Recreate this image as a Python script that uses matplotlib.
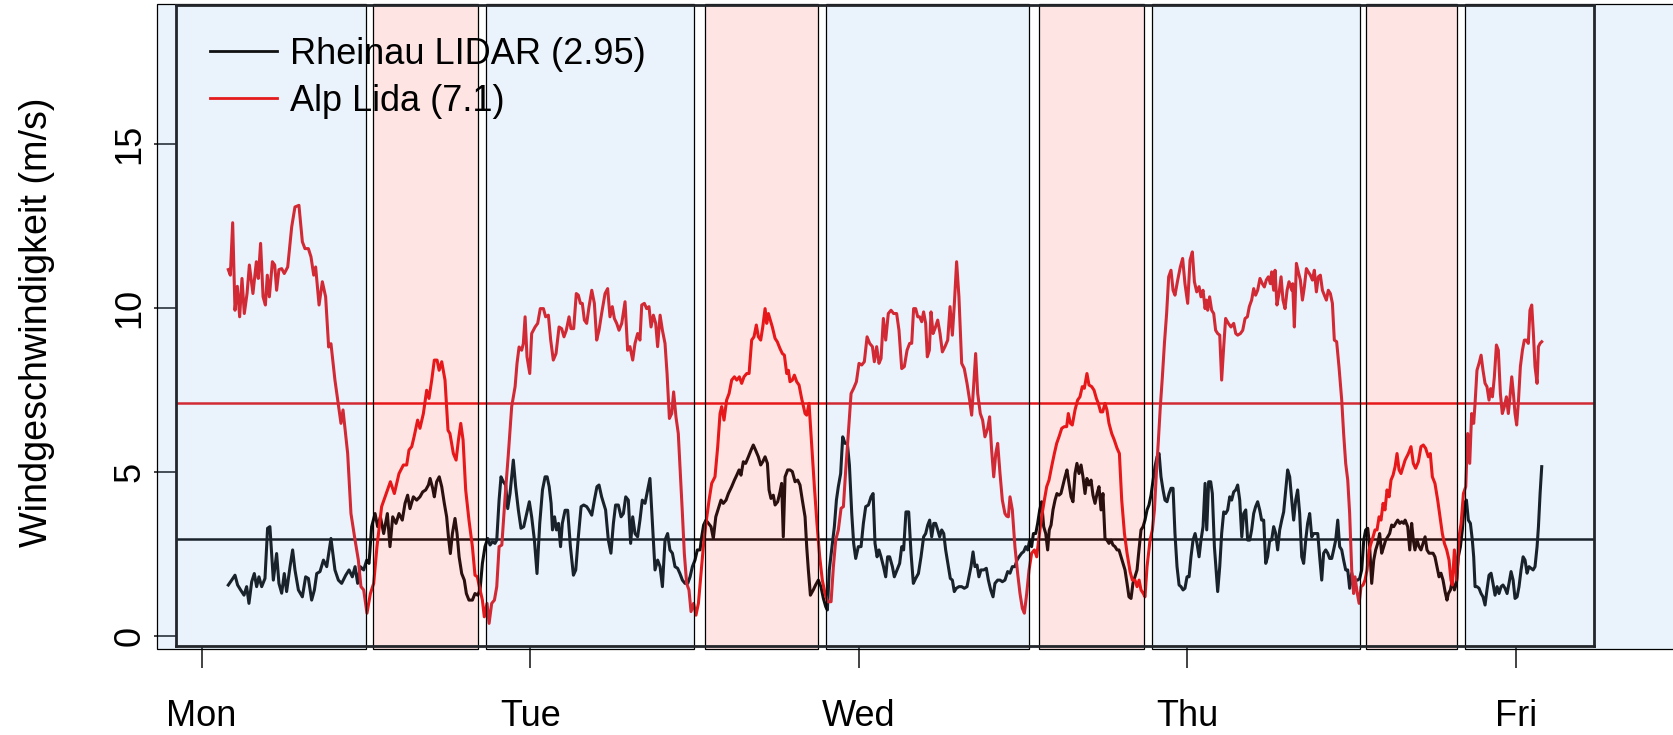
import numpy as np
import matplotlib
matplotlib.use("Agg")
import matplotlib.pyplot as plt
from matplotlib.patches import Rectangle

# ---------------- data (time in hours after Monday 00:00) ----------------
day_labels = ["Mon", "Tue", "Wed", "Thu", "Fri"]
day_ticks = [0, 24, 48, 72, 96]

rheinau_mean = 2.95
alp_mean = 7.1

# night (blue) and day (pink) periods, hours
night_start = [-3.26, 20.80, 45.59, 69.45, 92.31]
night_end = [11.99, 35.99, 60.42, 84.59, 115.0]
day_start = [12.54, 36.77, 61.19, 85.03]
day_end = [20.21, 45.00, 68.84, 91.73]

alp_t = [1.95, 2.10, 2.27, 2.44, 2.61, 2.78, 2.95, 3.12, 3.32, 3.49, 3.75, 4.00, 4.14, 4.31, 4.49, 4.66, 4.80, 4.95,
         5.17, 5.34, 5.48, 5.65, 5.85, 6.04, 6.29, 6.58, 6.82, 7.11, 7.36, 7.55, 7.80, 7.99, 8.19, 8.33, 8.58, 8.82,
         9.06, 9.28, 9.45, 9.74, 10.04, 10.18, 10.33, 10.67, 10.91, 11.21, 11.45, 11.64, 11.84, 12.08, 12.33, 12.57,
         12.81, 13.15, 13.49, 13.79, 14.08, 14.42, 14.74,
         14.98, 15.15, 15.35, 15.52, 15.78, 15.95, 16.20, 16.44, 16.61, 16.81, 17.00, 17.20, 17.35, 17.54, 17.78,
         18.00, 18.14, 18.39, 18.59, 18.76, 18.93, 19.10, 19.29, 19.53, 19.78, 19.97, 20.14, 20.29, 20.51, 20.65,
         20.85, 21.00, 21.19, 21.39, 21.56, 21.73, 21.93, 22.17, 22.41, 22.65, 22.90, 23.04, 23.19, 23.38, 23.50,
         23.63, 23.77, 23.97, 24.11, 24.36, 24.55, 24.74, 24.97, 25.13, 25.33, 25.50, 25.69, 25.89, 26.11, 26.30,
         26.47, 26.64, 26.84, 26.98, 27.18, 27.37, 27.52, 27.67, 27.81, 27.96, 28.13, 28.30, 28.50, 28.69, 28.86,
         29.03, 29.22,
         29.47, 29.66, 29.83, 30.00, 30.15, 30.32, 30.49, 30.69, 30.93, 31.12, 31.29, 31.49, 31.66, 31.85, 32.02,
         32.15, 32.34, 32.51, 32.68, 32.83, 33.00, 33.17, 33.31, 33.49, 33.66, 33.85, 34.00, 34.17, 34.34, 34.48,
         34.65, 34.82, 34.97, 35.12, 35.26, 35.43, 35.60, 35.75, 35.94, 36.11, 36.29, 36.48, 36.65, 36.84, 37.07,
         37.26, 37.50, 37.70, 37.87, 37.99, 38.16, 38.35, 38.53, 38.72, 38.92, 39.09, 39.28, 39.45, 39.62, 39.82,
         39.99, 40.18, 40.35, 40.52, 40.67, 40.84, 40.99, 41.16, 41.28, 41.40, 41.54, 41.69, 41.89, 42.05, 42.25,
         42.42, 42.57, 42.74, 42.86, 42.98, 43.15, 43.30, 43.47, 43.64, 43.83, 44.08,
         44.20, 44.37, 44.56, 44.76, 44.95, 45.15, 45.34, 45.54, 45.73, 45.98, 46.15, 46.32, 46.51, 46.71, 46.88,
         47.05, 47.24, 47.44, 47.63, 47.83, 48.02, 48.22, 48.41, 48.61, 48.80, 49.00, 49.14, 49.31, 49.48, 49.63,
         49.80, 49.97, 50.16, 50.36, 50.55, 50.77, 50.94, 51.14, 51.33, 51.53, 51.72, 51.87, 52.01, 52.16, 52.31,
         52.45, 52.60, 52.74, 52.89, 53.01, 53.16, 53.28, 53.43, 53.57, 53.77, 53.94, 54.11, 54.30, 54.50, 54.67,
         54.84, 54.98, 55.15, 55.32, 55.52, 55.71, 55.91, 56.10, 56.25, 56.39, 56.54, 56.69, 56.88, 57.05, 57.22,
         57.42, 57.56, 57.71, 57.86, 58.01, 58.15, 58.32, 58.49, 58.68,
         58.81, 58.93, 59.05, 59.22, 59.41, 59.61, 59.78, 59.95, 60.10, 60.27, 60.44, 60.63, 60.83, 61.00, 61.17,
         61.36, 61.56, 61.73, 61.90, 62.09, 62.29, 62.46, 62.63, 62.83, 63.02, 63.19, 63.31, 63.46, 63.60, 63.80,
         63.99, 64.16, 64.33, 64.48, 64.67, 64.82, 65.02, 65.19, 65.36, 65.50, 65.67, 65.82, 65.99, 66.13, 66.28,
         66.48, 66.67, 66.87, 67.04, 67.21, 67.41, 67.60, 67.82, 67.99, 68.18, 68.33, 68.48, 68.62, 68.79, 68.91,
         69.06, 69.28, 69.45, 69.60, 69.74, 69.89, 70.03, 70.18, 70.33, 70.49, 70.64, 70.81, 70.96, 71.10, 71.30,
         71.49, 71.66, 71.83, 72.03, 72.20, 72.37, 72.52, 72.69, 72.86, 73.00, 73.15, 73.30,
         73.39, 73.49, 73.63, 73.78, 73.93, 74.07, 74.22, 74.37, 74.51, 74.66, 74.80, 75.00, 75.19, 75.39, 75.54,
         75.68, 75.88, 76.05, 76.22, 76.39, 76.53, 76.70, 76.85, 76.99, 77.14, 77.31, 77.48, 77.63, 77.77, 77.92,
         78.07, 78.16, 78.31, 78.41, 78.55, 78.70, 78.85, 78.99, 79.14, 79.29, 79.43, 79.63, 79.70, 79.82, 79.97,
         80.11, 80.26, 80.41, 80.55, 80.70, 80.84, 80.99, 81.14, 81.28, 81.43, 81.57, 81.72, 81.87, 82.01, 82.16,
         82.30, 82.45, 82.60, 82.74, 82.91, 83.08, 83.28, 83.42, 83.57, 83.72, 83.86, 84.01, 84.15, 84.25, 84.40,
         84.55, 84.69, 84.84, 84.98, 85.13, 85.28, 85.42, 85.57, 85.71, 85.86, 86.01, 86.15, 86.30, 86.44, 86.59,
         86.74, 86.88, 87.03, 87.18, 87.32, 87.47, 87.61, 87.76, 87.91,
         88.03, 88.15, 88.34, 88.51, 88.68, 88.88, 89.07, 89.24, 89.41, 89.61, 89.75, 89.90, 90.09, 90.29, 90.46,
         90.63, 90.78, 90.95, 91.12, 91.26, 91.36, 91.51, 91.68, 91.85, 92.00, 92.17, 92.34, 92.48, 92.63, 92.77,
         92.92, 93.02, 93.16, 93.31, 93.46, 93.60, 93.75, 93.89, 94.04, 94.16, 94.29, 94.43, 94.58, 94.72, 94.87,
         95.01, 95.16, 95.31, 95.45, 95.57, 95.70, 95.82, 95.94, 96.06, 96.18, 96.33, 96.48, 96.62, 96.77, 96.91,
         97.03, 97.16, 97.28, 97.40, 97.55, 97.65, 97.77, 97.89]

alp_v = [11.17, 11.00, 12.60, 9.93, 10.66, 9.73, 10.90, 9.83, 10.44, 11.31, 10.44, 11.41, 10.90, 11.97, 10.34, 10.09,
         11.00, 10.34, 11.41, 11.31, 10.54, 11.17, 11.20, 11.05, 11.25, 12.47, 13.08, 13.13, 12.02, 11.81, 11.81,
         11.56, 11.00, 11.25, 10.09, 10.80, 10.34, 8.81, 8.91, 7.80, 6.89, 6.48, 6.89, 5.56, 3.73, 2.92, 2.31, 1.50,
         1.40, 0.69, 1.29, 1.60, 2.72, 3.94, 4.34, 4.70, 4.34, 4.95, 5.21,
         5.21, 5.67, 5.77, 6.07, 6.58, 6.33, 6.78, 7.49, 7.24, 7.80, 8.41, 8.41, 8.10, 8.36, 7.80, 6.27, 6.17, 5.56,
         5.36, 5.97, 6.48, 5.97, 4.45, 3.53, 2.72, 1.85, 1.80, 1.50, 1.09, 0.58, 0.99, 0.38, 0.99, 1.09, 1.50, 2.72,
         2.77, 4.24, 5.56, 6.99, 7.60, 8.31, 8.81, 8.71, 8.91, 9.73, 8.51, 8.00, 9.22, 9.42, 9.53, 9.98, 9.98, 9.73,
         9.78, 9.02, 8.41, 8.61, 9.42, 9.37, 9.12, 9.32, 9.73, 9.37, 9.37, 10.44, 10.39, 10.14, 10.14, 9.63, 9.53,
         10.04, 10.54, 10.14, 9.02, 9.32, 9.83,
         10.44, 10.59, 9.73, 10.04, 9.68, 9.53, 9.32, 9.53, 10.19, 8.71, 8.82, 8.41, 8.92, 9.22, 9.02, 10.09, 10.14,
         9.98, 10.04, 9.42, 9.78, 9.53, 8.82, 9.78, 9.32, 8.92, 8.00, 6.63, 6.78, 7.44, 6.68, 6.17, 4.95, 3.73, 2.52,
         1.60, 1.40, 0.74, 0.99, 0.63, 0.99, 1.90, 2.72, 3.43, 4.14, 4.65, 4.85, 5.77, 6.78, 6.99, 6.58, 7.19, 7.39,
         7.80, 7.90, 7.80, 7.90, 7.70, 7.90, 8.00, 8.00, 9.02, 9.12, 9.48, 9.12, 9.02, 9.42, 9.98, 9.53, 9.83, 9.63,
         9.42, 9.07, 8.97, 8.76, 8.61, 8.56, 8.00, 8.10, 7.75, 7.80, 7.95, 7.75, 7.65, 7.24, 6.78,
         6.73, 7.09, 5.87, 4.55, 3.43, 2.41, 1.70, 1.29, 1.04, 1.04, 2.11, 2.92, 3.23, 3.89, 3.94, 5.06, 6.17, 7.39,
         7.55, 7.75, 8.31, 8.26, 8.36, 9.12, 8.92, 8.82, 8.36, 8.82, 8.31, 8.46, 9.68, 9.02, 9.83, 9.93, 9.83, 9.83,
         9.32, 8.15, 8.21, 8.71, 8.92, 8.92, 9.98, 9.98, 9.73, 9.73, 9.58, 9.88, 9.53, 8.51, 8.71, 9.88, 9.22, 9.37,
         9.63, 9.22, 8.66, 8.82, 9.02, 10.04, 9.17, 10.09, 11.41, 10.34, 8.31, 8.15, 7.70, 7.19, 6.73, 7.60, 8.61,
         7.39, 6.78, 6.58, 6.07, 6.33, 6.68, 5.66, 4.85, 5.56, 5.87, 4.95, 4.14, 3.73,
         3.65, 3.63, 4.24, 3.84, 2.72, 1.90, 1.29, 0.84, 0.69, 1.29, 2.01, 2.52, 2.62, 2.41, 3.02, 3.63, 4.14, 4.55,
         4.75, 5.16, 5.56, 5.87, 6.07, 6.33, 6.38, 6.38, 6.78, 6.48, 6.43, 6.89, 7.19, 7.29, 7.60, 7.55, 8.00, 7.65,
         7.60, 7.49, 7.24, 7.09, 6.83, 6.83, 7.09, 6.89, 6.48, 6.17, 5.97, 5.72, 5.56, 4.14, 3.12, 2.52, 1.96, 1.70,
         1.70, 1.50, 1.70, 1.40, 1.29, 1.19, 2.11, 2.92, 3.23, 3.84, 4.95, 5.97, 6.99, 7.90, 8.92, 9.83, 10.95,
         11.15, 10.54, 10.39, 10.85, 11.25, 11.51, 10.74, 10.14, 11.46, 11.71, 10.80, 10.49, 10.65, 10.34, 10.54,
         9.98,
         10.24, 9.93, 10.34, 9.93, 9.83, 9.32, 9.22, 9.17, 7.80, 8.82, 9.68, 9.53, 9.42, 9.53, 9.22, 9.17, 9.22,
         9.32, 9.68, 9.73, 10.04, 10.24, 10.59, 10.39, 10.54, 10.90, 10.74, 10.64, 10.85, 10.95, 10.74, 11.10,
         10.54, 11.15, 10.09, 10.44, 10.95, 10.24, 9.98, 10.54, 10.80, 10.54, 10.74, 9.42, 11.36, 11.10, 10.85,
         10.24, 10.64, 11.20, 11.10, 11.00, 10.85, 11.15, 10.49, 10.95, 11.00, 10.54, 10.39, 10.24, 10.54, 10.44,
         10.14, 9.02, 8.97, 8.21, 7.19, 6.17, 5.26, 4.75, 3.73, 2.01, 1.29, 1.80, 1.34, 0.99, 1.50, 1.55, 1.70,
         2.01, 2.62, 2.82, 3.02, 3.23, 3.23, 3.63, 3.53, 4.04, 3.84, 4.45, 4.24, 4.75, 4.90, 5.16, 5.56, 5.06, 4.95,
         5.16, 5.36,
         5.46, 5.56, 5.77, 5.26, 5.11, 5.31, 5.77, 5.82, 5.72, 5.46, 5.56, 4.85, 4.65, 4.14, 3.63, 3.12, 2.82, 2.62,
         2.31, 1.70, 1.55, 2.62, 1.70, 3.02, 3.43, 4.34, 4.55, 6.17, 5.26, 6.78, 6.48, 7.09, 8.10, 8.31, 8.56, 8.10,
         7.70, 7.60, 7.19, 7.54, 7.29, 7.90, 8.87, 8.71, 7.39, 6.78, 6.99, 7.29, 6.78, 7.29, 7.90, 7.39, 6.78, 6.43,
         7.09, 8.21, 8.71, 9.02, 9.02, 8.92, 9.93, 10.09, 9.22, 8.21, 7.70, 8.82, 8.92, 8.97]

rheinau_t = [1.95, 2.20, 2.44, 2.63, 2.85, 3.10, 3.29, 3.46, 3.66, 3.85, 4.02, 4.19, 4.39, 4.63, 4.82, 4.99, 5.24,
             5.48, 5.65, 5.85, 6.04, 6.21, 6.46, 6.65, 6.82, 7.07, 7.36, 7.60, 7.80, 8.04, 8.24, 8.41, 8.65, 8.90,
             9.14, 9.45, 9.74, 9.99, 10.23, 10.53, 10.77, 11.01, 11.21, 11.40, 11.59, 11.84, 12.06, 12.23, 12.42,
             12.67, 12.86, 13.06, 13.30, 13.57, 13.76, 13.96, 14.20, 14.42, 14.66, 14.86,
             15.05, 15.22, 15.47, 15.71, 15.95, 16.15, 16.37, 16.57, 16.69, 16.88, 17.00, 17.17, 17.36, 17.54, 17.73,
             17.90, 18.03, 18.17, 18.32, 18.51, 18.66, 18.81, 19.00, 19.19, 19.34, 19.53, 19.78, 19.97, 20.17, 20.34,
             20.51, 20.70, 20.90, 21.07, 21.24, 21.43, 21.56, 21.73, 21.87, 22.04, 22.21, 22.36, 22.53, 22.77, 22.94,
             23.14, 23.33, 23.53, 23.75, 23.94, 24.11, 24.31, 24.50, 24.70, 24.90, 25.09, 25.24, 25.39, 25.53, 25.63,
             25.78, 25.92, 26.07, 26.22, 26.35, 26.55, 26.74, 26.94, 27.16, 27.33, 27.52, 27.72, 27.91, 28.13, 28.30,
             28.50, 28.69, 28.88, 29.03, 29.22,
             29.51, 29.71, 29.90, 30.08, 30.24, 30.44, 30.64, 30.81, 30.98, 31.17, 31.34, 31.49, 31.66, 31.85, 32.02,
             32.19, 32.39, 32.58, 32.75, 32.93, 33.12, 33.31, 33.49, 33.66, 33.85, 34.04, 34.21, 34.39, 34.58, 34.77,
             34.94, 35.12, 35.31, 35.51, 35.68, 35.85, 36.04, 36.21, 36.41, 36.53, 36.67, 36.84, 37.02, 37.21, 37.38,
             37.56, 37.75, 37.94, 38.11, 38.31, 38.48, 38.72, 38.92, 39.09, 39.26, 39.40, 39.57, 39.74, 39.94, 40.13,
             40.30, 40.47, 40.67, 40.84, 40.99, 41.16, 41.33, 41.45, 41.59, 41.76, 41.89, 42.08, 42.25, 42.37, 42.49,
             42.62, 42.81, 42.98, 43.15, 43.35, 43.54, 43.71, 43.88, 44.08,
             44.20, 44.32, 44.47, 44.68, 44.85, 45.05, 45.24, 45.42, 45.59, 45.71, 45.85, 46.02, 46.22, 46.37, 46.51,
             46.68, 46.83, 47.00, 47.17, 47.32, 47.49, 47.63, 47.78, 47.97, 48.17, 48.34, 48.51, 48.71, 48.90, 49.05,
             49.19, 49.34, 49.48, 49.63, 49.81, 49.97, 50.11, 50.26, 50.46, 50.60, 50.80, 50.99, 51.14, 51.28, 51.45,
             51.65, 51.82, 51.99, 52.16, 52.36, 52.55, 52.74, 52.89, 53.04, 53.18, 53.33, 53.48, 53.62, 53.77, 53.91,
             54.06, 54.21, 54.35, 54.55, 54.69, 54.84, 54.98, 55.13, 55.32, 55.52, 55.71, 55.91, 56.05, 56.20, 56.35,
             56.49, 56.64, 56.78, 56.93, 57.13, 57.32, 57.47, 57.64, 57.81, 57.95, 58.15, 58.32, 58.49, 58.68,
             58.88, 59.05, 59.22, 59.41, 59.56, 59.71, 59.90, 60.05, 60.20, 60.34, 60.49, 60.63, 60.76, 60.93, 61.07,
             61.22, 61.36, 61.51, 61.66, 61.80, 61.92, 62.05, 62.19, 62.34, 62.48, 62.63, 62.77, 62.92, 63.07, 63.21,
             63.36, 63.51, 63.65, 63.80, 63.94, 64.09, 64.24, 64.38, 64.53, 64.67, 64.82, 64.97, 65.11, 65.26, 65.41,
             65.55, 65.70, 65.84, 65.99, 66.13, 66.28, 66.43, 66.57, 66.72, 66.87, 67.01, 67.16, 67.30, 67.45, 67.60,
             67.74, 67.89, 68.03, 68.18, 68.33, 68.47, 68.62, 68.77, 68.91, 69.06, 69.20, 69.35, 69.50, 69.64, 69.79,
             69.94, 70.08, 70.23, 70.37, 70.52, 70.67, 70.81, 70.96, 71.10, 71.25, 71.40, 71.54, 71.69, 71.83, 71.98,
             72.13, 72.27, 72.42, 72.57, 72.71, 72.86, 73.00, 73.15, 73.30,
             73.42, 73.56, 73.71, 73.83, 73.98, 74.12, 74.22, 74.37, 74.51, 74.66, 74.80, 74.95, 75.10, 75.24, 75.39,
             75.54, 75.68, 75.83, 75.98, 76.12, 76.27, 76.41, 76.56, 76.70, 76.85, 76.99, 77.14, 77.29, 77.43, 77.58,
             77.73, 77.87, 78.02, 78.16, 78.31, 78.46, 78.60, 78.75, 78.90, 79.04, 79.19, 79.33, 79.48, 79.63, 79.77,
             79.92, 80.06, 80.21, 80.36, 80.50, 80.65, 80.79, 80.94, 81.09, 81.23, 81.38, 81.53, 81.67, 81.82, 81.96,
             82.11, 82.26, 82.40, 82.55, 82.69, 82.84, 82.99, 83.13, 83.28, 83.42, 83.57, 83.72, 83.86, 84.01, 84.15,
             84.30, 84.45, 84.59, 84.74, 84.89, 85.03, 85.18, 85.32, 85.47, 85.62, 85.76, 85.91, 86.05, 86.20, 86.35,
             86.49, 86.64, 86.78, 86.93, 87.08, 87.22, 87.37, 87.52, 87.66, 87.81, 87.91,
             88.10, 88.25, 88.39, 88.51, 88.63, 88.78, 88.93, 89.07, 89.22, 89.37, 89.51, 89.66, 89.80, 89.95, 90.09,
             90.24, 90.39, 90.53, 90.68, 90.83, 90.97, 91.07, 91.22, 91.36, 91.51, 91.66, 91.80, 91.95, 92.09, 92.24,
             92.39, 92.53, 92.68, 92.82, 92.92, 93.02, 93.16, 93.31, 93.46, 93.60, 93.75, 93.89, 94.04, 94.19, 94.33,
             94.48, 94.63, 94.77, 94.92, 95.06, 95.21, 95.36, 95.50, 95.65, 95.80, 95.94, 96.09, 96.23, 96.38, 96.53,
             96.67, 96.82, 96.96, 97.11, 97.26, 97.40, 97.55, 97.65, 97.77, 97.89]

rheinau_v = [1.55, 1.70, 1.85, 1.55, 1.40, 1.24, 1.50, 0.99, 1.65, 1.90, 1.50, 1.80, 1.50, 1.75, 3.28, 3.33, 1.70,
             2.51, 1.60, 1.30, 1.90, 1.35, 2.11, 2.62, 2.01, 1.40, 1.19, 1.80, 1.75, 1.09, 1.40, 1.90, 1.96, 2.31,
             2.11, 2.97, 2.01, 1.70, 1.60, 1.85, 2.01, 1.80, 2.11, 1.60, 2.11, 2.01, 2.31, 2.21, 3.33, 3.73, 3.33,
             3.63, 3.12, 3.73, 2.72, 3.63, 3.43, 3.73, 3.53, 4.04,
             4.29, 3.88, 4.24, 4.14, 4.24, 4.39, 4.45, 4.60, 4.80, 4.50, 4.24, 4.70, 4.85, 4.55, 4.04, 3.63, 3.02,
             2.51, 3.12, 3.58, 3.12, 2.41, 1.90, 1.70, 1.29, 1.09, 1.09, 1.29, 1.24, 1.40, 2.21, 2.72, 2.97, 2.77,
             2.87, 2.82, 2.92, 4.14, 4.85, 4.70, 4.60, 3.88, 4.34, 5.36, 4.55, 3.83, 3.28, 3.33, 3.73, 4.09, 3.63,
             2.92, 1.90, 3.43, 4.45, 4.85, 4.85, 4.55, 4.04, 3.23, 3.63, 3.23, 3.43, 2.72, 3.43, 3.83, 3.83, 2.72,
             1.85, 2.01, 3.02, 3.94, 3.99, 3.94, 3.83, 3.68, 4.14, 4.55, 4.60, 4.24,
             3.84, 2.92, 2.52, 3.43, 3.99, 3.99, 3.63, 3.73, 4.24, 4.14, 2.82, 3.63, 3.12, 3.02, 3.53, 4.14, 4.04,
             4.45, 4.80, 3.43, 2.01, 2.31, 2.11, 1.50, 2.92, 3.12, 2.62, 2.52, 2.11, 2.06, 1.90, 1.70, 1.60, 1.60,
             1.80, 2.11, 2.31, 2.62, 2.62, 3.02, 3.38, 3.53, 3.43, 3.33, 2.97, 3.63, 3.89, 4.14, 4.04, 4.14, 4.34,
             4.55, 4.75, 4.90, 5.06, 4.90, 5.31, 5.26, 5.46, 5.66, 5.82, 5.66, 5.46, 5.21, 5.31, 5.46, 5.26, 4.45,
             4.19, 4.29, 3.99, 4.09, 4.39, 4.65, 3.02, 4.85, 5.06, 5.06, 5.01, 4.70, 4.75, 4.60, 4.14, 3.63,
             2.72, 2.01, 1.24, 1.40, 1.55, 1.70, 1.50, 1.14, 0.89, 0.79, 2.01, 2.62, 3.33, 4.14, 4.55, 4.95, 6.07,
             5.87, 5.87, 5.21, 3.73, 2.82, 2.36, 2.72, 2.72, 3.43, 3.94, 3.99, 4.24, 4.34, 2.82, 2.41, 2.62, 2.41,
             2.11, 1.80, 2.41, 2.41, 2.11, 1.80, 2.01, 2.21, 2.72, 2.62, 3.78, 3.78, 2.52, 1.60, 1.75, 1.90, 2.41,
             3.02, 3.12, 3.38, 3.53, 3.02, 3.43, 3.43, 3.23, 3.02, 3.23, 3.12, 2.62, 2.11, 1.75, 1.70, 1.35, 1.45,
             1.50, 1.50, 1.45, 1.50, 1.80, 2.11, 2.56, 2.11, 2.16, 1.80, 2.01, 2.01, 2.06, 1.70, 1.40, 1.19, 1.60,
             1.70, 1.70, 1.65, 1.70,
             1.96, 1.91, 2.11, 2.11, 2.31, 2.41, 2.52, 2.57, 2.72, 2.62, 2.92, 2.72, 3.12, 3.12, 3.43, 3.84, 4.09,
             3.33, 3.12, 2.62, 3.23, 3.38, 3.84, 4.14, 4.34, 4.29, 4.34, 4.60, 4.85, 5.06, 4.65, 4.24, 4.09, 4.95,
             5.26, 4.95, 5.21, 4.85, 4.34, 4.80, 4.60, 4.75, 4.29, 4.04, 4.34, 4.55, 3.84, 4.34, 2.97, 2.92, 2.82,
             2.92, 2.77, 2.72, 2.62, 2.62, 2.41, 2.21, 2.01, 1.60, 1.19, 1.14, 1.60, 1.80, 2.01, 2.62, 3.23, 3.33,
             3.53, 3.84, 3.99, 4.29, 4.75, 5.16, 5.46, 5.56, 4.85, 4.45, 4.14, 4.09, 4.34, 4.50, 4.50, 3.12, 2.11,
             1.55, 1.50, 1.40, 1.45, 1.80, 1.80, 2.41, 2.92, 3.12, 2.82, 2.41, 2.92, 3.33, 4.65,
             3.23, 4.70, 4.70, 4.34, 2.72, 1.90, 1.35, 2.11, 3.12, 3.78, 3.73, 3.84, 4.24, 4.14, 4.39, 4.45, 4.60,
             4.14, 3.02, 3.73, 3.84, 2.92, 2.92, 3.23, 3.73, 3.94, 4.09, 3.84, 3.53, 3.53, 2.21, 2.41, 2.92, 2.92,
             3.33, 3.12, 2.62, 3.23, 3.53, 3.78, 4.45, 5.06, 4.85, 4.14, 3.53, 4.14, 4.45, 3.73, 2.41, 2.21, 2.92,
             3.43, 3.73, 3.02, 3.12, 3.12, 3.12, 2.41, 1.70, 2.52, 2.62, 2.52, 2.36, 2.36, 2.62, 2.92, 3.53, 2.72,
             2.62, 2.31, 2.01, 2.01, 1.45, 1.91, 1.50, 1.70, 1.70, 1.75, 2.01, 2.92, 3.23, 3.28, 2.72, 1.60, 2.31,
             2.62, 2.82, 3.12, 2.52, 2.72, 2.92, 3.02, 3.12, 3.38, 3.33, 3.43, 3.53, 3.43, 3.48, 3.43, 3.53,
             3.33, 2.62, 3.43, 2.92, 2.62, 2.92, 2.72, 2.62, 2.82, 3.02, 2.62, 2.52, 2.52, 2.52, 2.41, 2.11, 1.80,
             1.91, 1.70, 1.35, 1.09, 1.29, 1.40, 1.70, 1.40, 1.60, 2.41, 2.72, 3.23, 4.04, 4.14, 3.53, 3.43, 2.92,
             2.41, 1.50, 1.50, 1.45, 1.29, 1.19, 0.94, 1.40, 1.85, 1.91, 1.60, 1.24, 1.50, 1.29, 1.50, 1.55, 1.45,
             1.29, 1.60, 1.96, 1.70, 1.14, 1.19, 1.50, 2.01, 2.41, 2.31, 1.91, 2.11, 2.06, 2.01, 2.11, 2.72, 3.33,
             4.34, 5.16]

# ---------------- styling ----------------
plt.rcParams['font.family'] = ['Liberation Sans', 'DejaVu Sans']
W, H = 1673, 735
fig = plt.figure(figsize=(W / 100, H / 100), dpi=100, facecolor='white')
ax_left, ax_right, ax_top, ax_bot = 175.5, 1594.3, 5.0, 646.0
ax = fig.add_axes([ax_left / W, 1 - ax_bot / H, (ax_right - ax_left) / W, (ax_bot - ax_top) / H])
ax.set_facecolor('white')

ax.set_xlim(-1.906, 101.73)
ax.set_ylim(-0.31, 19.24)

black_col = '#111111'
red_col = '#E41A1C'

l1, = ax.plot(rheinau_t, rheinau_v, color=black_col, lw=2.2, zorder=2,
              label='Rheinau LIDAR (%.2f)' % rheinau_mean)
l2, = ax.plot(alp_t, alp_v, color=red_col, lw=2.2, zorder=2,
              label='Alp Lida (%.1f)' % alp_mean)
ax.axhline(rheinau_mean, color=black_col, lw=1.8, zorder=1.9)
ax.axhline(alp_mean, color=red_col, lw=1.8, zorder=1.9)

blue_face = (88 / 255, 163 / 255, 238 / 255, 0.12)
pink_face = (1.0, 0.04, 0.04, 0.11)
ylo, yhi = -0.40, 19.27
for s, e in zip(night_start, night_end):
    ax.add_patch(Rectangle((s, ylo), e - s, yhi - ylo, facecolor=blue_face, edgecolor='black',
                           lw=0.9, zorder=3, clip_on=False))
for s, e in zip(day_start, day_end):
    ax.add_patch(Rectangle((s, ylo), e - s, yhi - ylo, facecolor=pink_face, edgecolor='black',
                           lw=0.9, zorder=3, clip_on=False))

for sp in ax.spines.values():
    sp.set_linewidth(2.0)
    sp.set_color('#23262a')
    sp.set_zorder(4)

ax.set_xticks(day_ticks)
ax.set_xticklabels(day_labels)
ax.set_yticks([0, 5, 10, 15])
ax.tick_params(axis='both', length=16, width=1.2, color='#222222', labelsize=26, labelcolor='black')
ax.tick_params(axis='x', pad=22)
ax.tick_params(axis='y', pad=4, labelrotation=90)
for lab in ax.get_yticklabels():
    lab.set_va('center')

fig.text(37 / W, 1 - 322 / H, 'Windgeschwindigkeit (m/s)', rotation=90, ha='center', va='center',
         fontsize=27.2, color='black')

leg = ax.legend(handles=[l1, l2], loc='upper left', bbox_to_anchor=(0.0243, 0.950), frameon=False,
                fontsize=26, handlelength=1.86, handletextpad=0.36, labelspacing=0.32,
                borderpad=0, borderaxespad=0)
leg.set_zorder(6)
for line in leg.get_lines():
    line.set_linewidth(2.0)

fig.savefig('out.png', dpi=100, facecolor='white')
